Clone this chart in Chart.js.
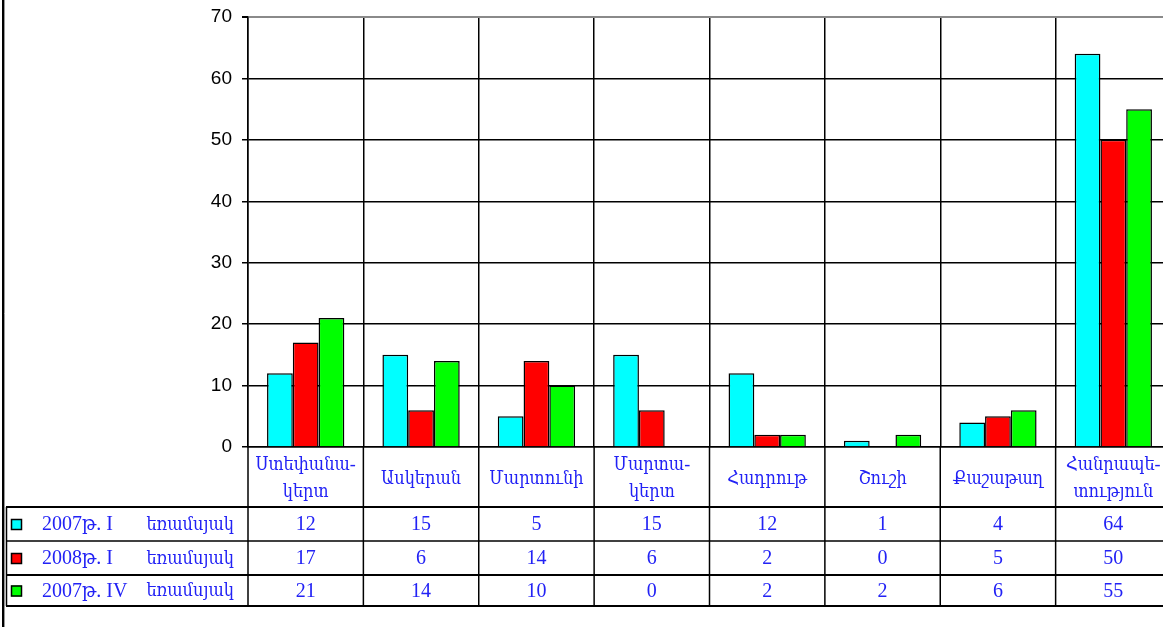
<!DOCTYPE html>
<html><head><meta charset="utf-8">
<script src="https://cdn.jsdelivr.net/npm/chart.js@4.4.0/dist/chart.umd.min.js"></script>
<style>
html,body{margin:0;padding:0;overflow:hidden;background:#fff;width:1163px;height:627px}
#wrap{position:relative;width:1172px;height:627px}
canvas{display:block}
</style></head><body><div id="wrap"><canvas id="c" width="1172" height="627"></canvas></div>
<script>
// ---- data ----
const categories = [["Ստեփանա-","կերտ"],["Ասկերան"],["Մարտունի"],["Մարտա-","կերտ"],["Հադրութ"],["Շուշի"],["Քաշաթաղ"],["Հանրապե-","տություն"]];
const seriesNames = ["2007թ. I","2008թ. I","2007թ. IV"];
const quarterWord = "եռամսյակ";
const q2007I  = [12,15,5,15,12,1,4,64];
const q2008I  = [17,6,14,6,2,0,5,50];
const q2007IV = [21,14,10,0,2,2,6,55];
const yMin = 0, yMax = 70, yStep = 10;
const seriesColors = ['#00FFFF','#FF0000','#00FF00'];

const serifFont = '"Liberation Serif","DejaVu Serif Condensed","DejaVu Serif",serif';
const textBlue = '#2222f5';

const tablePlugin = {
  id: 'dataTable',
  afterDraw(chart) {
    const ctx = chart.ctx, xs = chart.scales.x, area = chart.chartArea;
    const n = categories.length;
    const step = xs.getPixelForValue(1) - xs.getPixelForValue(0);
    const first = xs.getPixelForValue(0) - step / 2;
    const bounds = [];
    for (let i = 0; i <= n; i++) bounds.push(first + i * step);
    const top = area.bottom;
    const rowLines = [507, 541, 575, 606];
    const rowW = [2, 1.3, 2, 2];
    ctx.save();
    ctx.strokeStyle = '#000';
    ctx.lineWidth = 1.5;
    bounds.forEach(b => {
      ctx.beginPath(); ctx.moveTo(b, top); ctx.lineTo(b, rowLines[3]); ctx.stroke();
    });
    rowLines.forEach((y, i) => {
      ctx.lineWidth = rowW[i];
      ctx.beginPath(); ctx.moveTo(6, y); ctx.lineTo(1172, y); ctx.stroke();
    });
    ctx.lineWidth = 1.5;
    ctx.beginPath(); ctx.moveTo(6.5, rowLines[0]); ctx.lineTo(6.5, rowLines[3]); ctx.stroke();
    ctx.lineWidth = 2;
    ctx.beginPath(); ctx.moveTo(3, 0); ctx.lineTo(3, 627); ctx.stroke();
    ctx.strokeStyle = '#999'; ctx.lineWidth = 1;
    ctx.beginPath(); ctx.moveTo(4.5, 0); ctx.lineTo(4.5, 627); ctx.stroke();

    ctx.fillStyle = textBlue;
    ctx.font = '18px ' + serifFont;
    ctx.textAlign = 'center'; ctx.textBaseline = 'middle';
    categories.forEach((lab, i) => {
      const cx = xs.getPixelForValue(i);
      if (lab.length === 1) ctx.fillText(lab[0], cx, 479, step - 6);
      else { ctx.fillText(lab[0], cx, 465, step - 6); ctx.fillText(lab[1], cx, 492, step - 6); }
    });
    chart.data.datasets.forEach((ds, r) => {
      const cy = (rowLines[r] + rowLines[r + 1]) / 2 + 1;
      ctx.font = '20px ' + serifFont;
      ctx.fillStyle = textBlue;
      ctx.textAlign = 'center';
      ds.data.forEach((v, i) => ctx.fillText(String(v), xs.getPixelForValue(i), cy));
      ctx.fillStyle = ds.backgroundColor;
      ctx.fillRect(11, cy - 6, 11, 11);
      ctx.strokeStyle = '#000'; ctx.lineWidth = 1.5;
      ctx.strokeRect(11.5, cy - 5.5, 10, 10);
      ctx.fillStyle = textBlue;
      ctx.textAlign = 'left';
      ctx.fillText(seriesNames[r], 42, cy);
      ctx.font = '18px ' + serifFont;
      ctx.textAlign = 'right';
      ctx.fillText(quarterWord, 234, cy);
    });
    ctx.restore();
  }
};

new Chart(document.getElementById('c'), {
  type: 'bar',
  data: {
    labels: categories.map(c => c.join('')),
    datasets: [
      { label: seriesNames[0] + ' ' + quarterWord, data: q2007I,  backgroundColor: seriesColors[0] },
      { label: seriesNames[1] + ' ' + quarterWord, data: q2008I,  backgroundColor: seriesColors[1] },
      { label: seriesNames[2] + ' ' + quarterWord, data: q2007IV, backgroundColor: seriesColors[2] }
    ].map(d => Object.assign(d, { borderColor: '#000', borderWidth: 1.5, categoryPercentage: 0.67, barPercentage: 1 }))
  },
  options: {
    responsive: false,
    animation: false,
    devicePixelRatio: 1,
    layout: { padding: { left: 0, top: 17, right: 1, bottom: 0 } },
    plugins: { legend: { display: false }, tooltip: { enabled: false } },
    scales: {
      x: {
        offset: true,
        grid: { display: true, offset: true, color: '#000', lineWidth: 1.5, drawTicks: false },
        border: { display: true, color: '#000', width: 1.5 },
        ticks: { display: false },
        afterFit(s) { s.height = 180; s.paddingLeft = 0; s.paddingRight = 0; }
      },
      y: {
        min: yMin, max: yMax,
        ticks: { stepSize: yStep, color: '#000', padding: 10,
                 font: { family: '"Liberation Sans", Arial, sans-serif', size: 19 } },
        grid: { color: c => (c.tick && c.tick.value === yMax) ? '#8a8a8a' : '#000',
                lineWidth: c => (c.tick && c.tick.value === yMax) ? 2 : 1.5,
                tickLength: 6, tickColor: '#000' },
        border: { display: true, color: '#000', width: 1.5 },
        afterFit(s) { s.width = 248; s.paddingTop = 0; s.paddingBottom = 0; }
      }
    }
  },
  plugins: [tablePlugin]
});
</script></body></html>
